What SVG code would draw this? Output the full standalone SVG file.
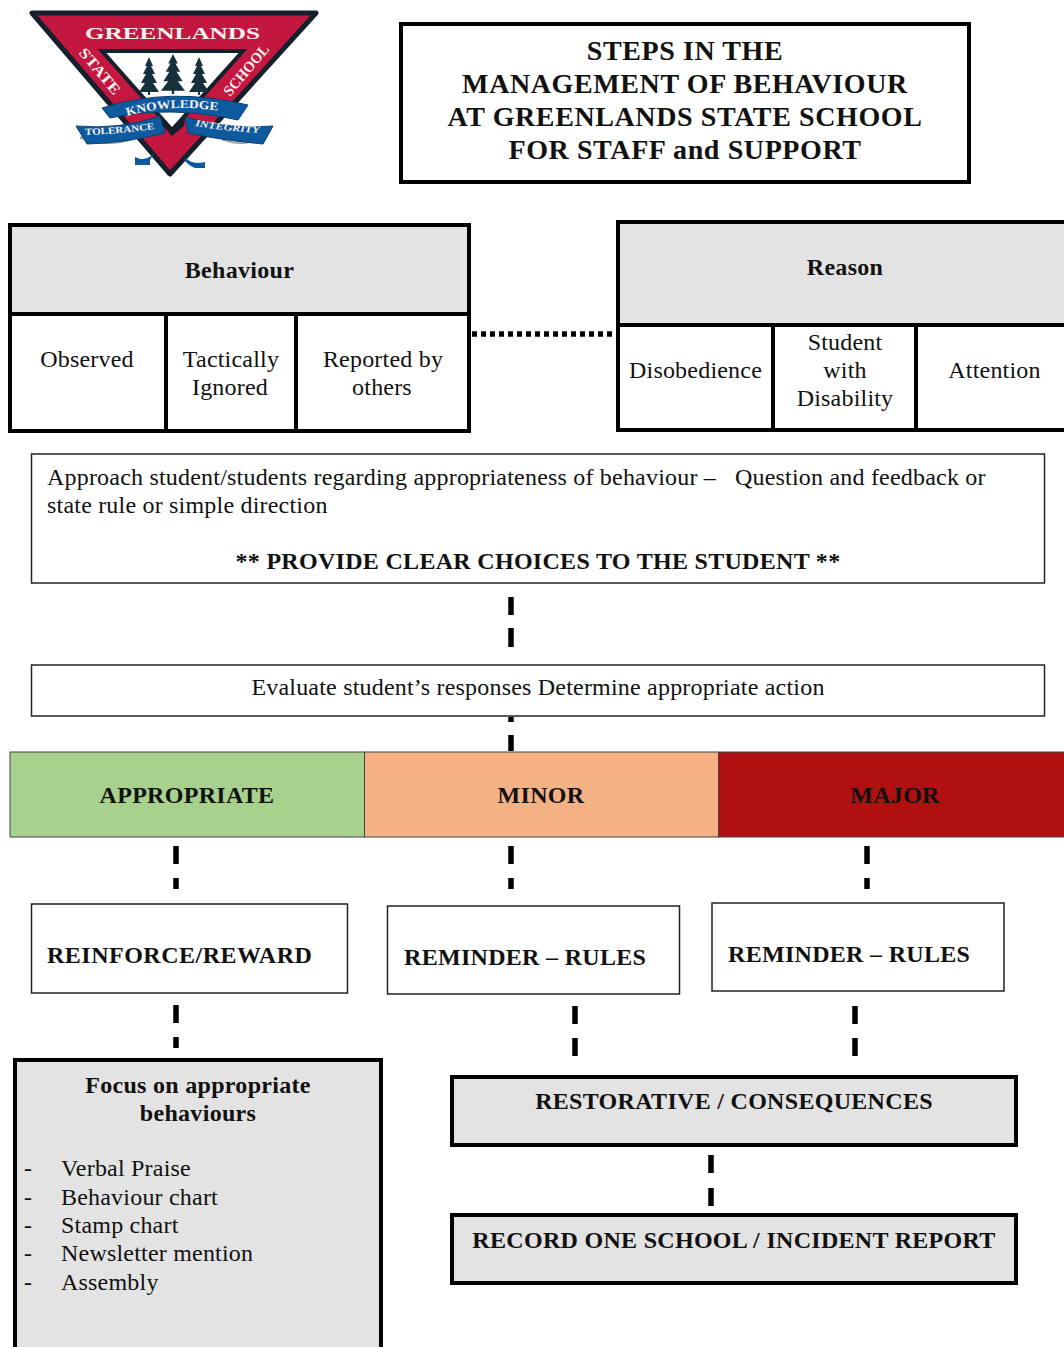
<svg xmlns="http://www.w3.org/2000/svg" width="1064" height="1347" viewBox="0 0 1064 1347">
<style>
text{font-family:"Liberation Serif","Times New Roman",serif;fill:#111;font-size:24px;letter-spacing:.2px}
.c{text-anchor:middle}
.b{font-weight:bold;letter-spacing:.3px}
.t{font-size:28px;letter-spacing:.6px}
.thick{stroke:#000;stroke-width:4;fill:none}
.thin{stroke:#222;stroke-width:1.5;fill:#fff}
.gray{fill:#e3e3e3}
.dash{stroke:#000;stroke-width:5.500;fill:none}
.lg{font-weight:bold;fill:#f4f0ee;letter-spacing:0}
.banner{fill:#0d5a9e;stroke:#0a3f73;stroke-width:1}
.tree{fill:#16303c}
</style>
<defs>
<path id="arcK" d="M127 116Q170 103 220 111"/>
<path id="arcT" d="M85 135Q120 134 155 129"/>
<path id="arcI" d="M195 126Q225 131 260 133"/>
<path id="treeShape" d="M0 0L4 9L2 9L6 17L3 17L8 26L4 26L10 35H1V38H-1V35H-10L-4 26L-8 26L-3 17L-6 17L-2 9L-4 9Z"/>
</defs>
<rect width="1064" height="1347" fill="#fff"/>
<g id="logo">
<path d="M32 13H316L170 174Z" fill="#c4173f" stroke="#14202c" stroke-width="5" stroke-linejoin="round"/>
<path d="M102 51H243L172 130Z" fill="#fff" stroke="#14202c" stroke-width="4"/>
<use href="#treeShape" class="tree" x="149" y="57"/>
<use href="#treeShape" class="tree" transform="translate(173 54) scale(1.2 1.05)"/>
<use href="#treeShape" class="tree" x="199" y="57"/>
<path d="M140 159Q150 160 156 150L150 160L150 165H135V157Z M186 158Q192 165 205 162V168H195Q188 165 184 160Z" fill="#0d5a9e"/>
<path d="M80 138Q105 148 132 140L132 134L84 134Z M225 134L262 138Q245 148 222 140Z" fill="#c9cbc9" stroke="#555" stroke-width=".6"/>
<path class="banner" d="M102 108Q170 86 248 105L238 120Q170 105 110 118Z"/>
<path class="banner" d="M76 126Q120 130 160 116L165 133Q125 143 87 144Z"/>
<path class="banner" d="M185 117Q230 130 273 126L263 144Q220 140 188 133Z"/>
<path d="M160 116L172 129L185 117L184 126L172 136L163 126Z" fill="#14202c"/>
<text class="lg" x="85" y="39" textLength="175" lengthAdjust="spacingAndGlyphs" style="font-size:17px">GREENLANDS</text>
<text class="lg" style="font-size:15px" textLength="56" lengthAdjust="spacingAndGlyphs" transform="translate(78,53) rotate(50)">STATE</text>
<text class="lg" style="font-size:15px" textLength="62" lengthAdjust="spacingAndGlyphs" transform="translate(230,97) rotate(-50)">SCHOOL</text>
<text class="lg" style="font-size:12px"><textPath href="#arcK" textLength="92" lengthAdjust="spacingAndGlyphs">KNOWLEDGE</textPath></text>
<text class="lg" style="font-size:9.500px"><textPath href="#arcT" textLength="70" lengthAdjust="spacingAndGlyphs">TOLERANCE</textPath></text>
<text class="lg" style="font-size:9.500px;font-style:italic"><textPath href="#arcI" textLength="65" lengthAdjust="spacingAndGlyphs">INTEGRITY</textPath></text>
</g>
<g id="title">
<rect x="401" y="24" width="568" height="158" class="thick"/>
<text class="c b t" x="685" y="60">STEPS IN THE</text>
<text class="c b t" x="685" y="93">MANAGEMENT OF BEHAVIOUR</text>
<text class="c b t" x="685" y="126">AT GREENLANDS STATE SCHOOL</text>
<text class="c b t" x="685" y="159">FOR STAFF and SUPPORT</text>
</g>
<g id="connectors">
<path class="dash" stroke-dasharray="5 4" d="M472 334H613"/>
<path class="dash" d="M511 597V615M511 628V647M511 717V722M511 735V751M511 846V864M511 878V889M176 846V864M176 878V889M867 846V864M867 878V889M176 1005V1023M176 1037V1048M575 1006V1024M575 1038V1056M855 1006V1024M855 1038V1056M711 1155V1173M711 1188V1206"/>
</g>
<g id="behaviour">
<rect x="10" y="225" width="459" height="89" class="gray"/>
<rect x="10" y="225" width="459" height="206" class="thick"/>
<path class="thick" d="M10 314H469M166 314V431M296 314V431"/>
<text class="c b" x="239.500" y="278">Behaviour</text>
<text class="c" x="87" y="367">Observed</text>
<text class="c" x="231" y="367">Tactically</text>
<text class="c" x="230" y="395">Ignored</text>
<text class="c" x="383" y="367">Reported by</text>
<text class="c" x="382" y="395">others</text>
</g>
<g id="reason">
<rect x="618" y="222" width="450" height="103" class="gray"/>
<path class="thick" d="M1068 222H618V430H1068M618 325H1068M773 325V430M916 325V430"/>
<text class="c b" x="845" y="275">Reason</text>
<text class="c" x="695.500" y="378">Disobedience</text>
<text class="c" x="845" y="350">Student</text>
<text class="c" x="845" y="378">with</text>
<text class="c" x="845" y="406">Disability</text>
<text class="c" x="994.500" y="378">Attention</text>
</g>
<g id="approach">
<rect x="31.500" y="454" width="1013" height="129" class="thin"/>
<text x="47" y="485">Approach student/students regarding appropriateness of behaviour –</text>
<text x="735" y="485">Question and feedback or</text>
<text x="47" y="513">state rule or simple direction</text>
<text class="c b" x="538" y="569">** PROVIDE CLEAR CHOICES TO THE STUDENT **</text>
</g>
<g id="evaluate">
<rect x="31.500" y="665" width="1013" height="51" class="thin"/>
<text class="c" x="538" y="695">Evaluate student’s responses Determine appropriate action</text>
</g>
<g id="appropriate">
<rect x="10" y="752" width="354.500" height="85" fill="#a9d18e" stroke="#444"/>
<text class="c b" x="187" y="803">APPROPRIATE</text>
</g>
<g id="minor">
<rect x="364.500" y="752" width="354" height="85" fill="#f4b183" stroke="#444"/>
<text class="c b" x="541" y="803">MINOR</text>
</g>
<g id="major">
<rect x="718.500" y="752" width="350" height="85" fill="#b0100f" stroke="#444"/>
<text class="c b" x="895" y="803">MAJOR</text>
</g>
<g id="reinforce">
<rect x="31.500" y="904" width="316" height="89" class="thin"/>
<text class="b" style="letter-spacing:.5px" x="47" y="963">REINFORCE/REWARD</text>
</g>
<g id="reminder1">
<rect x="387.500" y="906" width="292" height="88" class="thin"/>
<text class="b" x="404" y="965">REMINDER – RULES</text>
</g>
<g id="reminder2">
<rect x="712" y="903" width="292" height="88" class="thin"/>
<text class="b" x="728" y="962">REMINDER – RULES</text>
</g>
<g id="focus">
<path d="M15 1351V1060H381V1351" class="thick" style="fill:#e3e3e3"/>
<text class="c b" x="198" y="1093">Focus on appropriate</text>
<text class="c b" x="198" y="1121">behaviours</text>
<text x="24" y="1176">-</text><text x="61" y="1176">Verbal Praise</text>
<text x="24" y="1205">-</text><text x="61" y="1205">Behaviour chart</text>
<text x="24" y="1233">-</text><text x="61" y="1233">Stamp chart</text>
<text x="24" y="1261">-</text><text x="61" y="1261">Newsletter mention</text>
<text x="24" y="1290">-</text><text x="61" y="1290">Assembly</text>
</g>
<g id="restorative">
<rect x="452" y="1077" width="564" height="68" class="thick" style="fill:#e3e3e3"/>
<text class="c b" x="734" y="1109">RESTORATIVE / CONSEQUENCES</text>
</g>
<g id="record">
<rect x="452" y="1215" width="564" height="68" class="thick" style="fill:#e3e3e3"/>
<text class="c b" x="734" y="1248">RECORD ONE SCHOOL / INCIDENT REPORT</text>
</g>
</svg>
